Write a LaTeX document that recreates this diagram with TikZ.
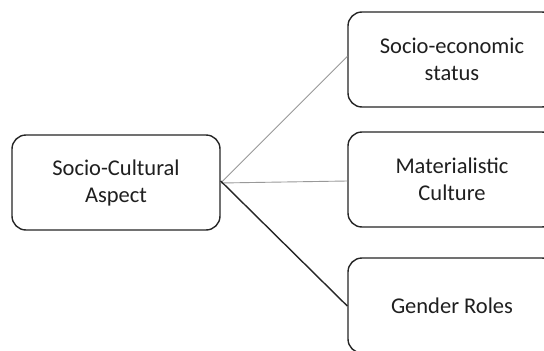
\documentclass[tikz,border=0pt]{standalone}
\usepackage{fontspec}
\setmainfont{Carlito}
\begin{document}
\begin{tikzpicture}[x=1pt,y=-1pt,
  box/.style={draw=black!85, line width=1.4pt, rounded corners=14pt,
    minimum width=208pt, minimum height=95pt, align=center,
    font=\fontsize{22.5}{27}\selectfont, text=black!88, inner sep=0pt},
  thin link/.style={draw=black!40, line width=0.9pt},
  thick link/.style={draw=black!85, line width=1.4pt}]
  \useasboundingbox (0,0) rectangle (544,351);
  \fill[white] (0,0) rectangle (544,351);
  \clip (0,0) rectangle (544,351);
  \node[box] (root) at (116,182.5) {Socio-Cultural\\Aspect};
  \node[box] (ses)  at (452,59.5)  {Socio-economic\\status};
  \node[box] (mat)  at (452,179.5) {Materialistic\\Culture};
  \node[box] (gen)  at (452,305.5) {Gender Roles};
  \coordinate (o1) at ([yshift=-0.5pt]root.east);
  \coordinate (o2) at ([yshift=1.5pt]root.east);
  \draw[thin link] (o1) -- ([yshift=3pt]ses.west);
  \draw[thin link] (o1) -- ([yshift=-1.5pt]mat.west);
  \draw[thick link] (o2) -- ([yshift=-0.5pt]gen.west);
\end{tikzpicture}
\end{document}
